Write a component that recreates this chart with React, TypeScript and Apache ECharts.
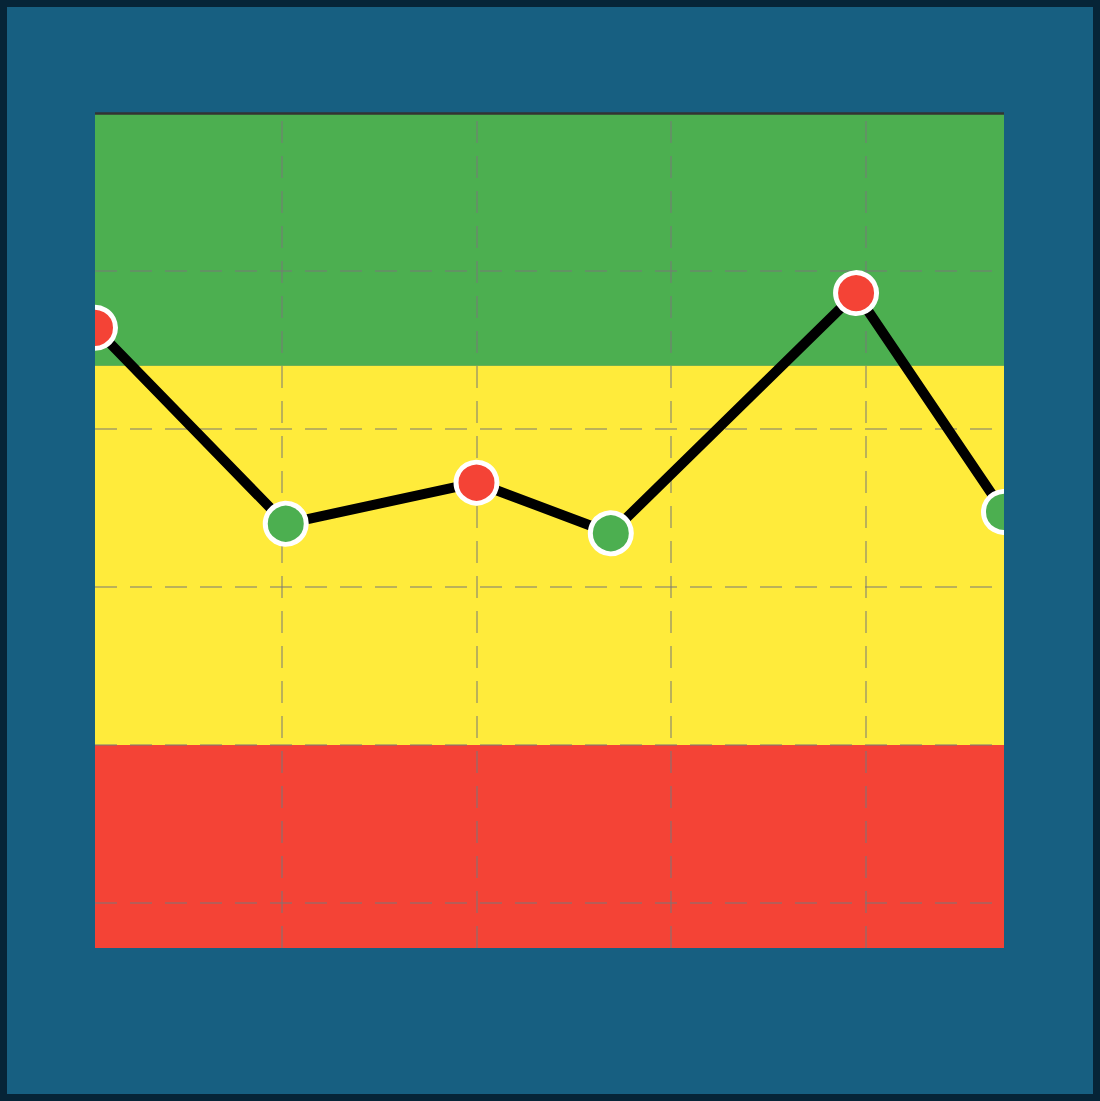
import { useEffect, useRef } from "react";
import * as echarts from "echarts";

// data points (x in grid units, y in value units)
const xValues = [0.04, 1.02, 2.0, 2.69, 3.95, 4.71];
const yValues = [72.8, 48.0, 53.2, 46.8, 77.2, 49.5];
const pointColors = ["#f44336", "#4caf50", "#f44336", "#4caf50", "#f44336", "#4caf50"];

// grid lines and background bands
const xGridValues = [1, 2, 3, 4];
const yGridValues = [0, 20, 40, 60, 80];
const bandFrom = [68, 20, -5.7];
const bandTo = [100, 68, 20];
const bandColors = ["#4caf50", "#ffeb3b", "#f44336"];

const X_MIN = 0.04;
const X_MAX = 4.71;
const Y_MIN = -5.7;
const Y_MAX = 100;

const BG = "#175f81";
const FRAME = "#062437";
const W = 1086;
const H = 1087;
const GRID = { left: 88, top: 106, width: 909, height: 835 };

export default function App() {
  const ref = useRef<HTMLDivElement>(null);

  useEffect(() => {
    if (!ref.current) return;
    const chart = echarts.init(ref.current, undefined, { renderer: "svg" });
    const hidden = {
      axisLine: { show: false },
      axisTick: { show: false },
      axisLabel: { show: false },
      splitLine: { show: false },
    };
    const gridLineStyle = { type: [22, 13], color: "rgba(120,120,120,0.5)", width: 2 };
    chart.setOption({
      animation: false,
      backgroundColor: BG,
      grid: { ...GRID },
      xAxis: { type: "value", min: X_MIN, max: X_MAX, ...hidden },
      yAxis: { type: "value", min: Y_MIN, max: Y_MAX, ...hidden },
      graphic: [
        // cover the half of the edge markers that falls outside the plot
        { type: "rect", z: 100, silent: true, shape: { x: 0, y: 0, width: GRID.left, height: H }, style: { fill: BG } },
        {
          type: "rect",
          z: 100,
          silent: true,
          shape: { x: GRID.left + GRID.width, y: 0, width: W - GRID.left - GRID.width, height: H },
          style: { fill: BG },
        },
      ],
      series: [
        {
          type: "line",
          z: 1,
          silent: true,
          data: [],
          markArea: {
            silent: true,
            data: bandColors.map((c, i) => [
              { yAxis: bandFrom[i], itemStyle: { color: c, opacity: 1 } },
              { yAxis: bandTo[i] },
            ]),
          },
          markLine: {
            silent: true,
            symbol: "none",
            label: { show: false },
            lineStyle: gridLineStyle,
            data: [
              ...xGridValues.map((v) => ({ xAxis: v })),
              ...yGridValues.map((v) => ({ yAxis: v })),
              { yAxis: Y_MAX, lineStyle: { type: "solid", color: "#333333", width: 2.5 } },
            ],
          },
        },
        {
          type: "line",
          z: 5,
          clip: false,
          symbol: "circle",
          symbolSize: 41,
          showAllSymbol: true,
          lineStyle: { color: "#000000", width: 10 },
          itemStyle: { borderColor: "#ffffff", borderWidth: 5 },
          data: xValues.map((x, i) => ({
            value: [x, yValues[i]],
            itemStyle: { color: pointColors[i], borderColor: "#ffffff", borderWidth: 5 },
          })),
        },
      ],
    });
    return () => chart.dispose();
  }, []);

  return (
    <div
      style={{
        position: "absolute",
        left: 0,
        top: 0,
        width: 1100,
        height: 1101,
        boxSizing: "border-box",
        border: `7px solid ${FRAME}`,
        background: BG,
      }}
    >
      <div ref={ref} style={{ width: W, height: H }} />
    </div>
  );
}
